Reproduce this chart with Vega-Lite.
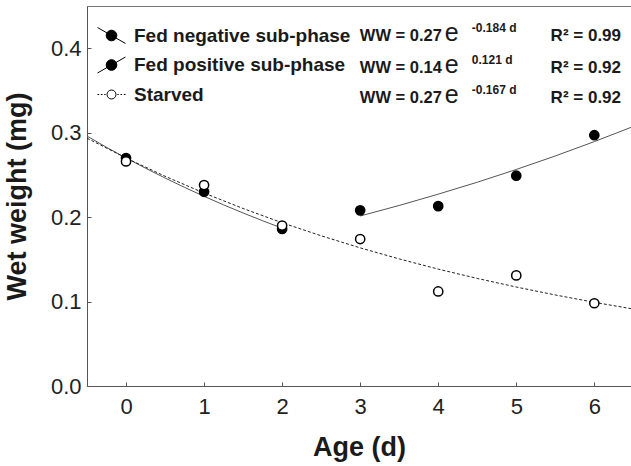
{
  "$schema": "https://vega.github.io/schema/vega-lite/v6.json",
  "width": 544,
  "height": 380,
  "autosize": {"type": "none"},
  "padding": {"left": 87, "top": 6, "right": 0, "bottom": 80},
  "background": "white",
  "config": {
    "font": "Liberation Sans",
    "view": {"stroke": "#777", "strokeWidth": 1},
    "axis": {
      "domainColor": "#555",
      "tickColor": "#555",
      "labelColor": "#222",
      "titleColor": "#1a1a1a",
      "grid": false,
      "labelFont": "Liberation Sans",
      "titleFont": "Liberation Sans",
      "labelFontSize": 22,
      "titleFontSize": 27,
      "titleFontWeight": "bold",
      "tickSize": -4
    }
  },
  "datasets": {
    "obs": [
      {"series": "Fed negative sub-phase", "age": 0, "ww": 0.27},
      {"series": "Fed negative sub-phase", "age": 1, "ww": 0.23},
      {"series": "Fed negative sub-phase", "age": 2, "ww": 0.186},
      {"series": "Fed positive sub-phase", "age": 3, "ww": 0.208},
      {"series": "Fed positive sub-phase", "age": 4, "ww": 0.213},
      {"series": "Fed positive sub-phase", "age": 5, "ww": 0.249},
      {"series": "Fed positive sub-phase", "age": 6, "ww": 0.297},
      {"series": "Starved", "age": 0, "ww": 0.266},
      {"series": "Starved", "age": 1, "ww": 0.238},
      {"series": "Starved", "age": 2, "ww": 0.19},
      {"series": "Starved", "age": 3, "ww": 0.174},
      {"series": "Starved", "age": 4, "ww": 0.112},
      {"series": "Starved", "age": 5, "ww": 0.131},
      {"series": "Starved", "age": 6, "ww": 0.098}
    ],
    "curves": [
      {"series": "Fed negative sub-phase", "age": -0.5, "ww": 0.296},
      {"series": "Fed negative sub-phase", "age": -0.25, "ww": 0.2827},
      {"series": "Fed negative sub-phase", "age": 0, "ww": 0.27},
      {"series": "Fed negative sub-phase", "age": 0.25, "ww": 0.2579},
      {"series": "Fed negative sub-phase", "age": 0.5, "ww": 0.2463},
      {"series": "Fed negative sub-phase", "age": 0.75, "ww": 0.2352},
      {"series": "Fed negative sub-phase", "age": 1, "ww": 0.2246},
      {"series": "Fed negative sub-phase", "age": 1.25, "ww": 0.2145},
      {"series": "Fed negative sub-phase", "age": 1.5, "ww": 0.2049},
      {"series": "Fed negative sub-phase", "age": 1.75, "ww": 0.1957},
      {"series": "Fed negative sub-phase", "age": 2, "ww": 0.1869},
      {"series": "Fed positive sub-phase", "age": 3, "ww": 0.2013},
      {"series": "Fed positive sub-phase", "age": 3.5, "ww": 0.2138},
      {"series": "Fed positive sub-phase", "age": 4, "ww": 0.2272},
      {"series": "Fed positive sub-phase", "age": 4.5, "ww": 0.2413},
      {"series": "Fed positive sub-phase", "age": 5, "ww": 0.2564},
      {"series": "Fed positive sub-phase", "age": 5.5, "ww": 0.2724},
      {"series": "Fed positive sub-phase", "age": 6, "ww": 0.2894},
      {"series": "Fed positive sub-phase", "age": 6.47, "ww": 0.3063},
      {"series": "Starved", "age": -0.5, "ww": 0.2935},
      {"series": "Starved", "age": 0, "ww": 0.27},
      {"series": "Starved", "age": 0.5, "ww": 0.2484},
      {"series": "Starved", "age": 1, "ww": 0.2285},
      {"series": "Starved", "age": 1.5, "ww": 0.2102},
      {"series": "Starved", "age": 2, "ww": 0.1933},
      {"series": "Starved", "age": 2.5, "ww": 0.1779},
      {"series": "Starved", "age": 3, "ww": 0.1636},
      {"series": "Starved", "age": 3.5, "ww": 0.1505},
      {"series": "Starved", "age": 4, "ww": 0.1384},
      {"series": "Starved", "age": 4.5, "ww": 0.1274},
      {"series": "Starved", "age": 5, "ww": 0.1172},
      {"series": "Starved", "age": 5.5, "ww": 0.1078},
      {"series": "Starved", "age": 6, "ww": 0.0991},
      {"series": "Starved", "age": 6.47, "ww": 0.0916}
    ],
    "eq": [
      {"series": "Fed negative sub-phase", "lvl": 0.4086, "coef": "WW = 0.27", "expo": "-0.184 d", "fit": "R² = 0.99"},
      {"series": "Fed positive sub-phase", "lvl": 0.3711, "coef": "WW = 0.14", "expo": " 0.121 d", "fit": "R² = 0.92"},
      {"series": "Starved", "lvl": 0.3352, "coef": "WW = 0.27", "expo": "-0.167 d", "fit": "R² = 0.92"}
    ]
  },
  "layer": [
    {
      "data": {"name": "curves"},
      "transform": [{"filter": "datum.series !== 'Starved'"}],
      "mark": {"type": "line", "strokeWidth": 1, "color": "#555"},
      "encoding": {
        "x": {
          "field": "age", "type": "quantitative",
          "scale": {"domain": [-0.5, 6.47], "nice": false, "zero": false},
          "axis": {"values": [0, 1, 2, 3, 4, 5, 6], "format": "d", "title": "Age (d)", "labelPadding": 14, "titlePadding": 17, "labelFlush": false}
        },
        "y": {
          "field": "ww", "type": "quantitative",
          "scale": {"domain": [0, 0.45], "nice": false},
          "axis": {"values": [0, 0.1, 0.2, 0.3, 0.4], "format": ".1f", "title": "Wet weight (mg)", "labelPadding": 10, "titlePadding": 19, "labelFlush": false}
        },
        "detail": {"field": "series", "type": "nominal"}
      }
    },
    {
      "data": {"name": "curves"},
      "transform": [{"filter": "datum.series === 'Starved'"}],
      "mark": {"type": "line", "strokeWidth": 1, "color": "#222", "strokeDash": [3, 2]},
      "encoding": {
        "x": {"field": "age", "type": "quantitative"},
        "y": {"field": "ww", "type": "quantitative"}
      }
    },
    {
      "data": {"name": "obs"},
      "mark": {"type": "point", "filled": true, "stroke": "black", "strokeWidth": 1.5, "opacity": 1, "size": 85},
      "encoding": {
        "x": {"field": "age", "type": "quantitative"},
        "y": {"field": "ww", "type": "quantitative"},
        "fill": {
          "field": "series", "type": "nominal",
          "scale": {"domain": ["Fed negative sub-phase", "Fed positive sub-phase", "Starved"], "range": ["black", "black", "white"]},
          "legend": {
            "orient": "none", "legendX": 10, "legendY": 15, "title": null,
            "padding": 0, "rowPadding": 4.5, "symbolSize": 784,
            "symbolType": {"expr": "datum.value === 'Starved' ? 'M-1,0L-0.88,0M-0.76,0L-0.64,0M-0.52,0L-0.42,0M0.42,0L0.52,0M0.64,0L0.76,0M0.88,0L1,0M0.32,0A0.32,0.32 0 1,1 -0.32,0A0.32,0.32 0 1,1 0.32,0Z' : (datum.value === 'Fed negative sub-phase' ? 'M-1,-0.57L1,0.57M0.38,0A0.38,0.38 0 1,1 -0.38,0A0.38,0.38 0 1,1 0.38,0Z' : 'M-1,0.57L1,-0.57M0.38,0A0.38,0.38 0 1,1 -0.38,0A0.38,0.38 0 1,1 0.38,0Z')"},
            "symbolStrokeWidth": 1, "symbolStrokeColor": "black",
            "labelFont": "Liberation Sans", "labelFontSize": 19, "labelFontWeight": "bold",
            "labelColor": "#1a1a1a", "labelOffset": 8, "labelLimit": 0,
            "encode": {
              "symbols": {
                "update": {
                  "size": {"value": 784},
                  "stroke": {"value": "black"},
                  "strokeWidth": {"value": 1},
                  "opacity": {"value": 1}
                }
              }
            }
          }
        }
      }
    },
    {
      "data": {"name": "eq"},
      "mark": {"type": "text", "align": "right", "baseline": "alphabetic", "fontSize": 16.5, "fontWeight": "bold", "color": "#1a1a1a", "font": "Liberation Sans"},
      "encoding": {
        "x": {"datum": 4.047, "type": "quantitative"},
        "y": {"field": "lvl", "type": "quantitative"},
        "text": {"field": "coef"}
      }
    },
    {
      "data": {"name": "eq"},
      "mark": {"type": "text", "align": "left", "baseline": "alphabetic", "fontSize": 25, "fontWeight": "normal", "color": "#1a1a1a", "font": "Liberation Sans"},
      "encoding": {
        "x": {"datum": 4.085, "type": "quantitative"},
        "y": {"field": "lvl", "type": "quantitative"},
        "text": {"value": "e"}
      }
    },
    {
      "data": {"name": "eq"},
      "mark": {"type": "text", "align": "left", "baseline": "alphabetic", "fontSize": 12, "fontWeight": "bold", "color": "#1a1a1a", "font": "Liberation Sans", "dy": -9},
      "encoding": {
        "x": {"datum": 4.43, "type": "quantitative"},
        "y": {"field": "lvl", "type": "quantitative"},
        "text": {"field": "expo"}
      }
    },
    {
      "data": {"name": "eq"},
      "mark": {"type": "text", "align": "left", "baseline": "alphabetic", "fontSize": 17, "fontWeight": "bold", "color": "#1a1a1a", "font": "Liberation Sans"},
      "encoding": {
        "x": {"datum": 5.44, "type": "quantitative"},
        "y": {"field": "lvl", "type": "quantitative"},
        "text": {"field": "fit"}
      }
    }
  ]
}
